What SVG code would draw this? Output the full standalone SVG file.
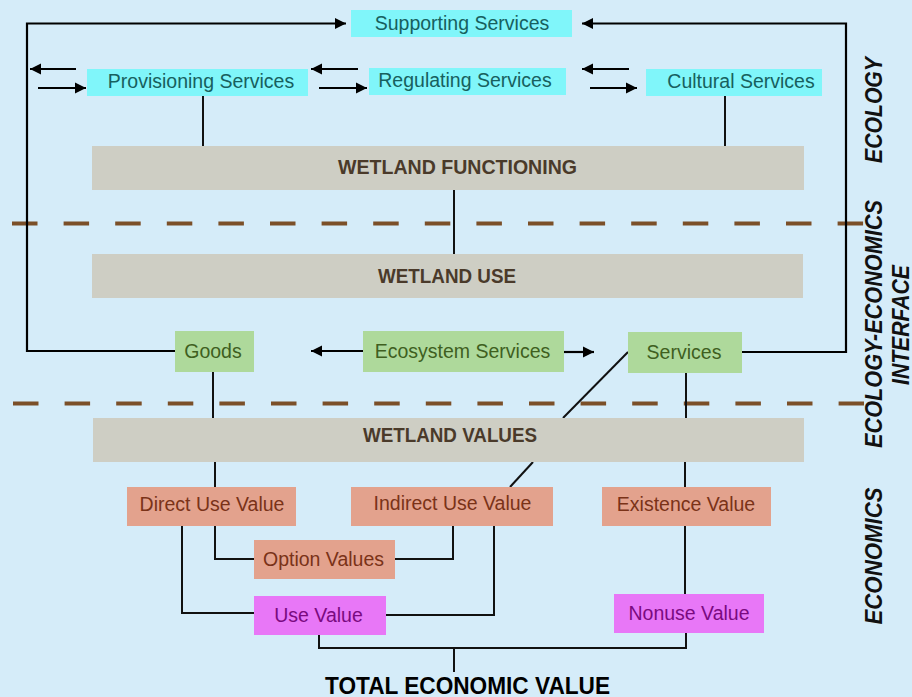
<svg xmlns="http://www.w3.org/2000/svg" width="912" height="697" viewBox="0 0 912 697">
<style>
.lbl{font-family:"Liberation Sans",Arial,sans-serif;font-size:19.5px;text-anchor:middle}
.hdr{font-family:"Liberation Sans",Arial,sans-serif;font-size:19.5px;font-weight:bold;fill:#4a3a2a;text-anchor:middle}
.side{font-family:"Liberation Sans",Arial,sans-serif;font-size:23px;font-weight:bold;font-style:italic;fill:#111;text-anchor:middle}
.cy rect{fill:#80F6FA}.cy text{fill:#17605e}
.gr rect{fill:#AED99B}.gr text{fill:#3f5f1f}
.gy rect{fill:#CECEC4}
.sa rect{fill:#E3A28D}.sa text{fill:#7a3218}
.mg rect{fill:#E877F7}.mg text{fill:#7a0a80}
.ln{fill:none;stroke:#111;stroke-width:2}
.ar{fill:none;stroke:#000;stroke-width:2.2;marker-end:url(#ah)}
.dash{stroke:#7B4F28;stroke-width:4;stroke-dasharray:25.5 26.1}
</style>
<defs>
<marker id="ah" markerUnits="userSpaceOnUse" markerWidth="12" markerHeight="12" viewBox="0 0 12 12" refX="11" refY="6" orient="auto">
<path d="M0,0.5 L11,6 L0,11.5 Z" fill="#000"/>
</marker>
</defs>
<rect width="912" height="697" fill="#D5ECF9"/>
<g id="dividers">
<line class="dash" x1="12" y1="223.5" x2="864" y2="223.5"/>
<line class="dash" x1="13" y1="403.5" x2="864" y2="403.5"/>
</g>
<g id="connectors">
<polyline class="ar" points="175,351 27,351 27,23.5 346,23.5"/>
<polyline class="ar" points="742,352 846,352 846,23.5 582,23.5"/>
<line class="ar" x1="76" y1="69" x2="30" y2="69"/>
<line class="ar" x1="38" y1="88" x2="86" y2="88"/>
<line class="ar" x1="358" y1="69" x2="311" y2="69"/>
<line class="ar" x1="319" y1="88" x2="367" y2="88"/>
<line class="ar" x1="629" y1="69" x2="582" y2="69"/>
<line class="ar" x1="590" y1="88" x2="637" y2="88"/>
<line class="ln" x1="203" y1="96" x2="203" y2="146"/>
<line class="ln" x1="725" y1="96" x2="725" y2="146"/>
<line class="ln" x1="454" y1="190" x2="454" y2="254"/>
<line class="ar" x1="363" y1="351" x2="311" y2="351"/>
<line class="ar" x1="564" y1="352" x2="594" y2="352"/>
<line class="ln" x1="213" y1="372" x2="213" y2="418"/>
<line class="ln" x1="686" y1="373" x2="686" y2="418"/>
<line class="ln" x1="628" y1="352" x2="563" y2="418"/>
<line class="ln" x1="533" y1="462" x2="510" y2="487"/>
<line class="ln" x1="215" y1="462" x2="215" y2="487"/>
<line class="ln" x1="685" y1="462" x2="685" y2="487"/>
<polyline class="ln" points="215,526 215,559 254,559"/>
<polyline class="ln" points="395,559 453,559 453,526"/>
<polyline class="ln" points="182,526 182,613 254,613"/>
<polyline class="ln" points="386,615 494,615 494,526"/>
<line class="ln" x1="685" y1="526" x2="685" y2="594"/>
<polyline class="ln" points="319,635 319,648 686,648 686,633"/>
<line class="ln" x1="454" y1="648" x2="454" y2="672"/>
</g>
<g id="supporting" class="cy"><rect x="351" y="10" width="221" height="27"/><text class="lbl" x="462" y="30">Supporting Services</text></g>
<g id="provisioning" class="cy"><rect x="87" y="69" width="221" height="27"/><text class="lbl" x="201" y="88">Provisioning Services</text></g>
<g id="regulating" class="cy"><rect x="369" y="68" width="197" height="27"/><text class="lbl" x="465" y="87">Regulating Services</text></g>
<g id="cultural" class="cy"><rect x="646" y="69" width="176" height="27"/><text class="lbl" x="741" y="88">Cultural Services</text></g>
<g id="functioning" class="gy"><rect x="92" y="146" width="712" height="44"/><text class="hdr" x="457.5" y="174" textLength="239" lengthAdjust="spacingAndGlyphs">WETLAND FUNCTIONING</text></g>
<g id="use" class="gy"><rect x="92" y="254" width="711" height="44"/><text class="hdr" x="447" y="283" textLength="138" lengthAdjust="spacingAndGlyphs">WETLAND USE</text></g>
<g id="goods" class="gr"><rect x="175" y="331" width="79" height="41"/><text class="lbl" x="213" y="358">Goods</text></g>
<g id="ecosystem" class="gr"><rect x="363" y="331" width="201" height="41"/><text class="lbl" x="462.5" y="358">Ecosystem Services</text></g>
<g id="services" class="gr"><rect x="628" y="332" width="114" height="41"/><text class="lbl" x="684" y="359">Services</text></g>
<g id="values" class="gy"><rect x="93" y="418" width="711" height="44"/><text class="hdr" x="450" y="442" textLength="174" lengthAdjust="spacingAndGlyphs">WETLAND VALUES</text></g>
<g id="direct" class="sa"><rect x="127" y="487" width="169" height="39"/><text class="lbl" x="212" y="511">Direct Use Value</text></g>
<g id="indirect" class="sa"><rect x="351" y="487" width="202" height="39"/><text class="lbl" x="452.5" y="510">Indirect Use Value</text></g>
<g id="existence" class="sa"><rect x="602" y="487" width="169" height="39"/><text class="lbl" x="686" y="511">Existence Value</text></g>
<g id="option" class="sa"><rect x="254" y="540" width="141" height="39"/><text class="lbl" x="323.5" y="566">Option Values</text></g>
<g id="usevalue" class="mg"><rect x="254" y="596" width="132" height="39"/><text class="lbl" x="318.5" y="622">Use Value</text></g>
<g id="nonuse" class="mg"><rect x="614" y="594" width="150" height="39"/><text class="lbl" x="689" y="620">Nonuse Value</text></g>
<g id="tev"><text x="467.5" y="694" font-family="Liberation Sans,Arial,sans-serif" font-size="24" font-weight="bold" fill="#000" text-anchor="middle" textLength="285" lengthAdjust="spacingAndGlyphs">TOTAL ECONOMIC VALUE</text></g>
<g id="side-labels">
<text class="side" transform="translate(882,110) rotate(-90)" textLength="106" lengthAdjust="spacingAndGlyphs">ECOLOGY</text>
<text class="side" transform="translate(882,324) rotate(-90)" textLength="248" lengthAdjust="spacingAndGlyphs">ECOLOGY-ECONOMICS</text>
<text class="side" transform="translate(909,325) rotate(-90)" textLength="120" lengthAdjust="spacingAndGlyphs">INTERFACE</text>
<text class="side" transform="translate(882,556) rotate(-90)" textLength="137" lengthAdjust="spacingAndGlyphs">ECONOMICS</text>
</g>
</svg>
